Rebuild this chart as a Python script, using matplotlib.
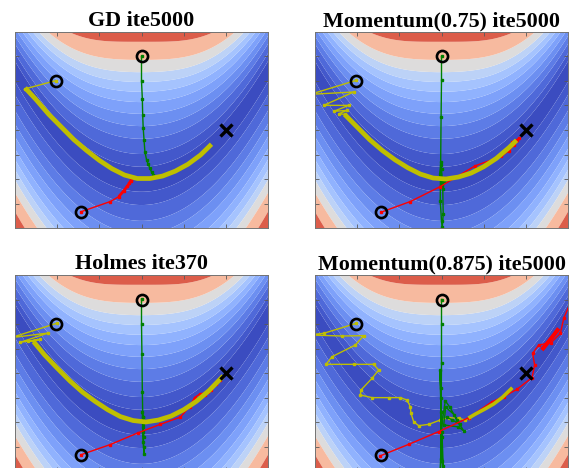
import numpy as np
import matplotlib.pyplot as plt

# colour bands of the landscape: distance from the valley floor where each band starts
band_edges = [0, 0.25, 0.51, 0.82, 1.08, 1.33, 1.57, 1.78, 1.98, 2.18, 2.43, 2.80, 4.5]
band_shades = [0.0, 0.03, 0.07, 0.11, 0.16, 0.21, 0.26, 0.32, 0.39, 0.5, 0.66, 0.88]
upper_flatten = 0.72   # level curves above the valley open up away from x=0
lower_scale = 0.96

x_ticks = [-1, -0.5, 0, 0.5, 1]
y_ticks = [-0.5, 0, 0.5, 1, 1.5, 2, 2.5]

# the three starting points and the minimum
starts_x = [-1.01, 0.0, -0.72]
starts_y = [2.01, 2.5, -0.67]
goal_x = [1.0]
goal_y = [1.0]

titles = ["GD ite5000", "Momentum(0.75) ite5000", "Holmes ite370", "Momentum(0.875) ite5000"]

# ---- GD ----
gd_yel_x = [-1.01, -1.38]
gd_yel_y = [2.01, 1.84]
gd_yel_dense_x = [-1.38, -1.25, -1.1, -0.95, -0.8, -0.65, -0.5, -0.35, -0.2, -0.05, 0.1, 0.25, 0.4, 0.55, 0.7, 0.83]
gd_yel_dense_y = [1.86, 1.62, 1.32, 1.06, 0.80, 0.58, 0.38, 0.21, 0.08, 0.01, 0.01, 0.06, 0.16, 0.3, 0.49, 0.71]
gd_grn_x = [0.0, 0.0, 0.01, 0.014, 0.02, 0.03, 0.04, 0.06, 0.08, 0.10, 0.12, 0.14, 0.15]
gd_grn_y = [2.5, 2.0, 1.63, 1.31, 1.05, 0.80, 0.56, 0.39, 0.30, 0.22, 0.14, 0.09, 0.06]
gd_red_x = [-0.72, -0.37, -0.27, -0.21, -0.17, -0.15, -0.13, -0.12]
gd_red_y = [-0.67, -0.46, -0.36, -0.24, -0.15, -0.09, -0.04, -0.02]
gd_red_dense_x = [-0.27, -0.21, -0.16, -0.12]
gd_red_dense_y = [-0.36, -0.24, -0.13, -0.02]

# ---- Momentum(0.75) ----
m75_yel_x = [-1.01, -1.555, -1.041, -1.397, -1.1, -1.279, -1.12, -1.22, -1.15]
m75_yel_y = [2.014, 1.728, 1.776, 1.503, 1.503, 1.381, 1.40, 1.33, 1.32]
m75_yel_dense_x = [-1.15, -1.0, -0.85, -0.7, -0.55, -0.4, -0.25, -0.1, 0.05, 0.2, 0.35, 0.5, 0.65, 0.8, 0.89]
m75_yel_dense_y = [1.32, 1.06, 0.80, 0.58, 0.39, 0.23, 0.10, 0.02, 0.0, 0.04, 0.12, 0.25, 0.42, 0.64, 0.79]
m75_grn_x = [0.0, 0.0, -0.005, -0.01, -0.015, 0.0, 0.01, 0.02, 0.015, 0.0, -0.01, -0.02, 0.0, 0.01, 0.03, 0.06, 0.1, 0.08, 0.05]
m75_grn_y = [2.5, 2.02, 1.26, 0.35, -0.45, -0.85, -0.97, -0.72, -0.2, 0.2, 0.28, 0.1, -0.1, -0.15, -0.05, 0.02, 0.03, 0.01, 0.0]
m75_red_x = [-0.72, -0.37, -0.02, 0.40, 0.71, 0.80, 0.86, 0.84, 0.90, 0.88, 0.92]
m75_red_y = [-0.68, -0.46, -0.16, 0.27, 0.46, 0.58, 0.70, 0.76, 0.80, 0.78, 0.84]

# ---- Holmes ----
h_yel_x = [-1.006, -1.55, -1.105, -1.44, -1.2, -1.34, -1.28]
h_yel_y = [2.014, 1.72, 1.816, 1.626, 1.687, 1.646, 1.66]
h_yel_dense_x = [-1.28, -1.15, -1.0, -0.85, -0.7, -0.55, -0.4, -0.25, -0.1, 0.05, 0.2, 0.35, 0.5, 0.65, 0.8, 0.97]
h_yel_dense_y = [1.64, 1.37, 1.10, 0.84, 0.61, 0.42, 0.25, 0.11, 0.03, 0.0, 0.04, 0.12, 0.25, 0.42, 0.64, 0.94]
h_grn_x = [0.0, 0.0, 0.005, 0.01, 0.015, 0.02, 0.03, 0.025, 0.02, 0.01, 0.015, 0.02, 0.025, 0.02, 0.03]
h_grn_y = [2.51, 2.01, 1.39, 0.61, 0.1, -0.4, -0.65, -0.5, -0.1, 0.2, 0.1, -0.2, -0.3, -0.05, 0.02]
h_red_x = [-0.72, -0.37, -0.04, 0.22, 0.46, 0.57, 0.63, 0.69, 0.79, 0.75, 0.82, 0.88, 0.93]
h_red_y = [-0.67, -0.46, -0.22, -0.05, 0.10, 0.31, 0.50, 0.57, 0.61, 0.55, 0.66, 0.77, 0.86]

# ---- Momentum(0.875) ----
m875_yel_x = [-1.01, -1.397, -1.575, -1.18, -0.923, -1.022, -1.298, -1.37, -1.042, -0.804, -0.745, -0.824,
              -0.955, -0.962, -0.824, -0.626, -0.488, -0.409, -0.37, -0.362, -0.33, -0.271, -0.152, -0.014,
              0.085, 0.204, 0.283, 0.322]
m875_yel_y = [2.014, 1.81, 1.776, 1.755, 1.762, 1.571, 1.333, 1.177, 1.177, 1.177, 1.061, 0.891,
              0.653, 0.551, 0.497, 0.497, 0.497, 0.449, 0.313, 0.177, 0.007, -0.075, -0.048, 0.041,
              0.088, 0.075, 0.041, 0.075]
m875_yel_dense_x = [0.32, 0.40, 0.52, 0.62, 0.72, 0.84]
m875_yel_dense_y = [0.08, 0.16, 0.27, 0.37, 0.50, 0.70]
m875_grn_x = [0.0, 0.0, 0.0, -0.005, -0.01, -0.02, -0.015, 0.0, -0.01, -0.02, -0.01, 0.005, 0.02, 0.025,
              0.01, -0.01, 0.045, 0.1, 0.18, 0.263, 0.2, 0.026, 0.05, 0.15, 0.22, 0.12, 0.06]
m875_grn_y = [2.5, 2.01, 1.2, 0.2, -0.75, -1.3, -1.1, -0.3, 0.5, 1.06, 0.7, -0.2, -0.9, -1.2,
              -0.8, -0.2, 0.43, 0.3, 0.05, -0.18, -0.1, -0.06, 0.3, 0.15, -0.05, 0.05, 0.1]
m875_red_x = [-0.725, -0.389, -0.034, 0.322, 0.6, 0.737, 0.895, 1.073, 1.105, 1.08, 1.152, 1.30, 1.41, 1.449, 1.52]
m875_red_y = [-0.69, -0.456, -0.197, 0.088, 0.415, 0.517, 0.667, 0.905, 1.163, 1.401, 1.571, 1.62, 1.81, 2.116, 2.4]
m875_red_dense_x = [1.19, 1.26, 1.33, 1.39]
m875_red_dense_y = [1.47, 1.62, 1.77, 1.91]

panels = [
    dict(thin=[(gd_yel_x, gd_yel_y, 'y'), (gd_grn_x, gd_grn_y, 'g'), (gd_red_x, gd_red_y, 'r')],
         dense=[(gd_yel_dense_x, gd_yel_dense_y, 'y', 3.4), (gd_red_dense_x, gd_red_dense_y, 'r', 2.0)]),
    dict(thin=[(m75_yel_x, m75_yel_y, 'y'), (m75_grn_x, m75_grn_y, 'g'), (m75_red_x, m75_red_y, 'r')],
         dense=[(m75_yel_dense_x, m75_yel_dense_y, 'y', 3.4)]),
    dict(thin=[(h_yel_x, h_yel_y, 'y'), (h_grn_x, h_grn_y, 'g'), (h_red_x, h_red_y, 'r')],
         dense=[(h_yel_dense_x, h_yel_dense_y, 'y', 3.4)]),
    dict(thin=[(m875_yel_x, m875_yel_y, 'y'), (m875_grn_x, m875_grn_y, 'g'), (m875_red_x, m875_red_y, 'r')],
         dense=[(m875_yel_dense_x, m875_yel_dense_y, 'y', 2.6), (m875_red_dense_x, m875_red_dense_y, 'r', 3.0)]),
]

# landscape: distance from the parabolic valley y = x^2
gx, gy = np.meshgrid(np.linspace(-1.5, 1.5, 400), np.linspace(-1, 3, 400))
d = gy - gx ** 2
gz = np.where(d > 0, d * np.sqrt(1 + upper_flatten * gx ** 2), -d * lower_scale)
band_colors = [plt.cm.coolwarm(s) for s in band_shades]

W, H = 570, 468
fig = plt.figure(figsize=(W / 100, H / 100), dpi=100)
boxes = [(15, 32), (315, 32), (15, 275), (315, 275)]

for (left, top), title, p in zip(boxes, titles, panels):
    ax = fig.add_axes([left / W, (H - top - 196) / H, 253 / W, 196 / H])
    ax.contourf(gx, gy, gz, levels=band_edges, colors=band_colors, antialiased=True)
    for xs, ys, c in p['thin']:
        ax.plot(xs, ys, '-', color=c, lw=1.0, marker='s', ms=2.0, mec=c, mfc=c)
    for xs, ys, c, lw in p['dense']:
        ax.plot(xs, ys, '-', color=c, lw=lw, solid_capstyle='butt')
    ax.plot(starts_x, starts_y, 'o', ms=8, mfc='none', mec='k', mew=1.9)
    ax.plot(goal_x, goal_y, 'x', ms=8, mec='k', mew=2.4)
    ax.set_xlim(-1.5, 1.5)
    ax.set_ylim(-1, 3)
    ax.set_xticks(x_ticks)
    ax.set_yticks(y_ticks)
    ax.tick_params(direction='in', length=3, width=0.6, colors='0.35',
                   top=True, right=True, labelbottom=False, labelleft=False)
    for s in ax.spines.values():
        s.set_color('0.45')
        s.set_linewidth(0.7)
    ax.set_title(title, fontsize=15.8, fontweight='bold', family='Liberation Serif', pad=4)

fig.savefig('out.png', dpi=100)
